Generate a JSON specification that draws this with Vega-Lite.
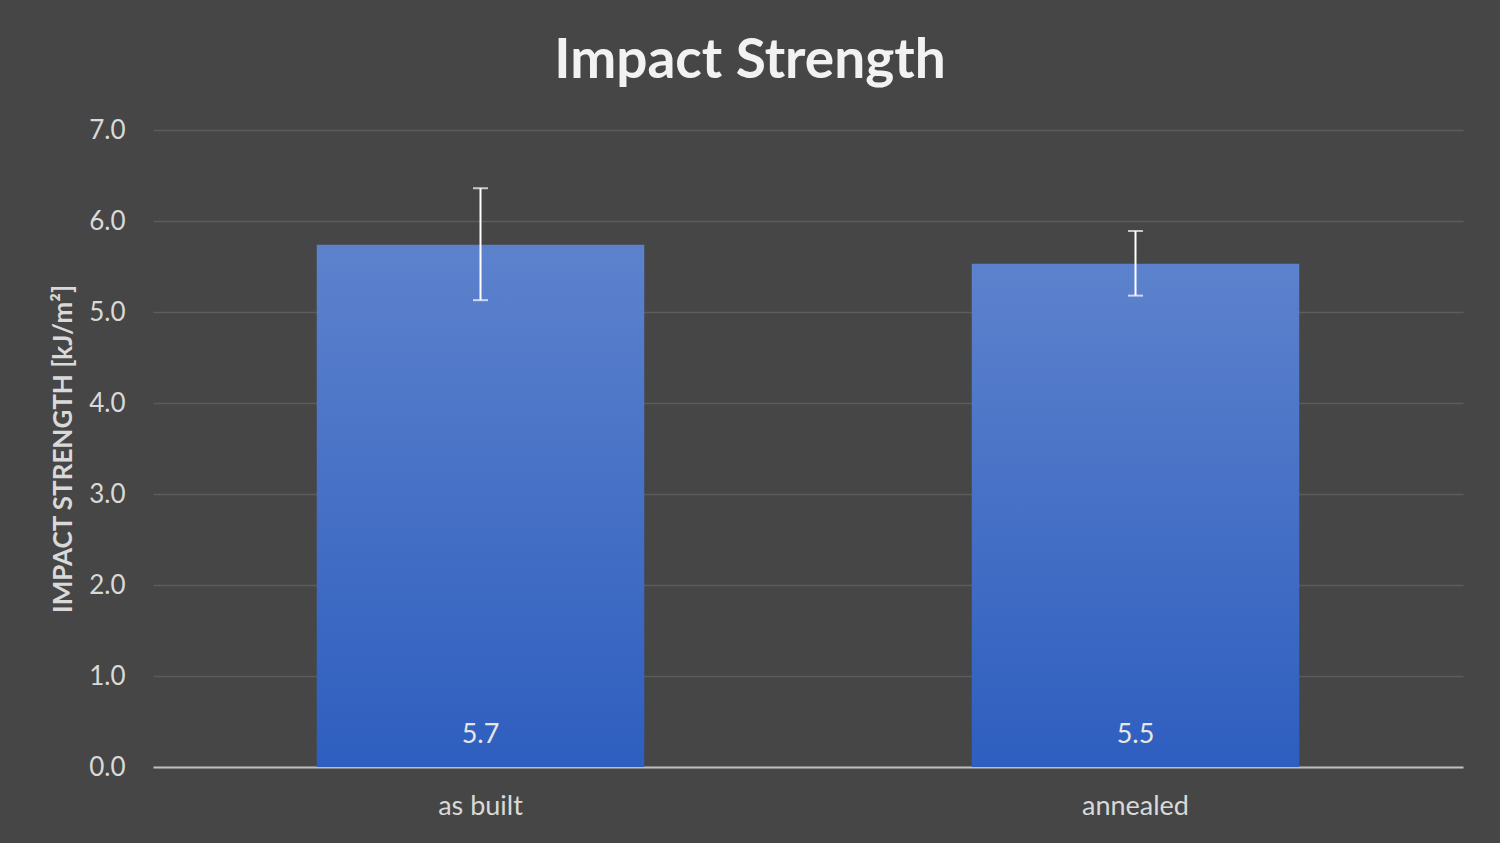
{
  "$schema": "https://vega.github.io/schema/vega-lite/v6.json",
  "width": 1310,
  "height": 637,
  "autosize": {"type": "none"},
  "padding": {"left": 153, "top": 130, "right": 37, "bottom": 76},
  "background": "#464646",
  "title": {
    "text": "Impact Strength",
    "font": "Lato",
    "fontSize": 55,
    "fontWeight": "bold",
    "color": "#f2f2f2",
    "anchor": "middle",
    "dx": -58,
    "offset": 27
  },
  "data": {
    "values": [
      {"condition": "as built", "mean": 5.74, "lo": 5.13, "hi": 6.36},
      {"condition": "annealed", "mean": 5.53, "lo": 5.18, "hi": 5.89}
    ]
  },
  "encoding": {
    "x": {
      "field": "condition",
      "type": "nominal",
      "sort": null,
      "title": null,
      "scale": {"paddingInner": 0.5, "paddingOuter": 0.25},
      "axis": {
        "labelAngle": 0,
        "labelFont": "Lato",
        "labelFontSize": 27,
        "labelColor": "#d9d9d9",
        "labelPadding": 26,
        "ticks": false,
        "domainColor": "#bfbfbf",
        "domainWidth": 2
      }
    }
  },
  "layer": [
    {
      "mark": {
        "type": "bar",
        "color": {
          "gradient": "linear",
          "x1": 0, "y1": 0, "x2": 0, "y2": 1,
          "stops": [
            {"offset": 0, "color": "#5d82cd"},
            {"offset": 1, "color": "#2e5ebf"}
          ]
        }
      },
      "encoding": {
        "y": {
          "field": "mean",
          "type": "quantitative",
          "title": "IMPACT STRENGTH [kJ/m²]",
          "scale": {"domain": [0, 7]},
          "axis": {
            "values": [0, 1, 2, 3, 4, 5, 6, 7],
            "format": ".1f",
            "labelFont": "Lato",
            "labelFontSize": 26,
            "labelColor": "#d9d9d9",
            "labelPadding": 28,
            "ticks": false,
            "domain": false,
            "gridColor": "#5c5c5c",
            "gridWidth": 1.5,
            "titleFont": "Lato",
            "titleFontSize": 26,
            "titleFontWeight": "bold",
            "titleColor": "#d9d9d9",
            "titlePadding": 12
          }
        }
      }
    },
    {
      "mark": {"type": "rule", "color": "#ffffff", "strokeWidth": 2},
      "encoding": {
        "y": {"field": "lo", "type": "quantitative"},
        "y2": {"field": "hi"}
      }
    },
    {
      "mark": {"type": "tick", "color": "#ffffff", "thickness": 2, "size": 15},
      "encoding": {"y": {"field": "lo", "type": "quantitative"}}
    },
    {
      "mark": {"type": "tick", "color": "#ffffff", "thickness": 2, "size": 15},
      "encoding": {"y": {"field": "hi", "type": "quantitative"}}
    },
    {
      "mark": {
        "type": "text",
        "font": "Lato",
        "fontSize": 27,
        "color": "#e6e6e6",
        "baseline": "middle",
        "dy": -32
      },
      "encoding": {
        "y": {"datum": 0, "type": "quantitative"},
        "text": {"field": "mean", "type": "quantitative", "format": ".1f"}
      }
    }
  ],
  "config": {"view": {"stroke": null}}
}
